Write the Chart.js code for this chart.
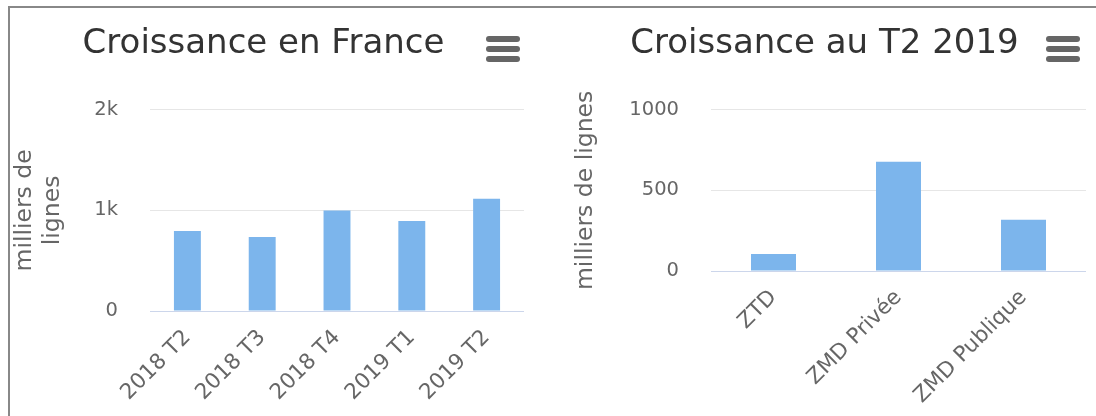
<!DOCTYPE html>
<html>
<head>
<meta charset="utf-8">
<script src="https://cdn.jsdelivr.net/npm/chart.js@4"></script>
<style>
  body { margin: 0; background: #fff; width: 1096px; height: 416px; overflow: hidden; position: relative; }
  .frame { position: absolute; left: 8px; top: 6px; width: 1100px; height: 420px; border-top: 2px solid #888; border-left: 2px solid #888; }
  .box { position: absolute; top: 0; height: 416px; }
  .menu { position: absolute; width: 34px; }
  .menu span { display: block; height: 6px; margin-bottom: 4px; border-radius: 3px; background: #666; }
</style>
</head>
<body>
<div class="frame"></div>
<div class="box" style="left:3px;width:521px"><canvas id="c1"></canvas></div>
<div class="box" style="left:563px;width:523px"><canvas id="c2"></canvas></div>
<div class="menu" style="left:486px;top:36px"><span></span><span></span><span></span></div>
<div class="menu" style="left:1046px;top:36px"><span></span><span></span><span></span></div>
<script>
// Croissance des lignes — deux histogrammes façon Highcharts
Chart.defaults.font.family = "'DejaVu Sans',sans-serif";
Chart.defaults.color = '#666666';

const FR_LABELS = ['2018 T2', '2018 T3', '2018 T4', '2019 T1', '2019 T2'];
const FR_VALUES = [795, 735, 1000, 895, 1115];
const FR_TICKS = [0, 1000, 2000];

const ZONE_LABELS = ['ZTD', 'ZMD Privée', 'ZMD Publique'];
const ZONE_VALUES = [105, 678, 318];
const ZONE_TICKS = [0, 500, 1000];

const BAR = '#7cb5ec';

function titleOpts(text) {
  return {
    display: true, text: text, color: '#333333',
    font: { size: 34, weight: 'normal' },
    padding: { top: 24, bottom: 45 },
  };
}

function scales(ticks, fmt, yTitle, yTitlePad, yWidth, xHeight) {
  return {
    x: {
      grid: { display: false },
      border: { color: '#ccd6eb' },
      ticks: { minRotation: 45, maxRotation: 45, autoSkip: false, font: { size: 21.5 }, padding: 6 },
      afterFit: s => { s.height = xHeight; },
    },
    y: {
      min: 0, max: ticks[ticks.length - 1],
      afterBuildTicks: s => { s.ticks = ticks.map(v => ({ value: v })); },
      grid: { color: c => c.tick && c.tick.value === 0 ? 'rgba(0,0,0,0)' : '#e6e6e6', drawTicks: false },
      border: { display: false },
      ticks: { callback: fmt, font: { size: 19.5 }, padding: 32 },
      title: { display: true, text: yTitle, font: { size: 23.5 }, lineHeight: 1.28, padding: { top: yTitlePad, bottom: 0 } },
      afterFit: s => { s.width = yWidth; },
    },
  };
}

new Chart(document.getElementById('c1'), {
  type: 'bar',
  data: {
    labels: FR_LABELS,
    datasets: [{ data: FR_VALUES, backgroundColor: BAR, barPercentage: 0.6, categoryPercentage: 0.6 }],
  },
  options: {
    responsive: true, maintainAspectRatio: false, animation: false,
    plugins: { legend: { display: false }, tooltip: { enabled: false }, title: titleOpts('Croissance en France') },
    scales: scales(FR_TICKS, v => v === 0 ? '0' : (v / 1000) + 'k', ['milliers de', 'lignes'], 8, 147, 105),
  },
});

new Chart(document.getElementById('c2'), {
  type: 'bar',
  data: {
    labels: ZONE_LABELS,
    datasets: [{ data: ZONE_VALUES, backgroundColor: BAR, barPercentage: 0.6, categoryPercentage: 0.6 }],
  },
  options: {
    responsive: true, maintainAspectRatio: false, animation: false,
    plugins: { legend: { display: false }, tooltip: { enabled: false }, title: titleOpts('Croissance au T2 2019') },
    scales: scales(ZONE_TICKS, v => String(v), 'milliers de lignes', 9, 148, 145),
  },
});
</script>
</body>
</html>
